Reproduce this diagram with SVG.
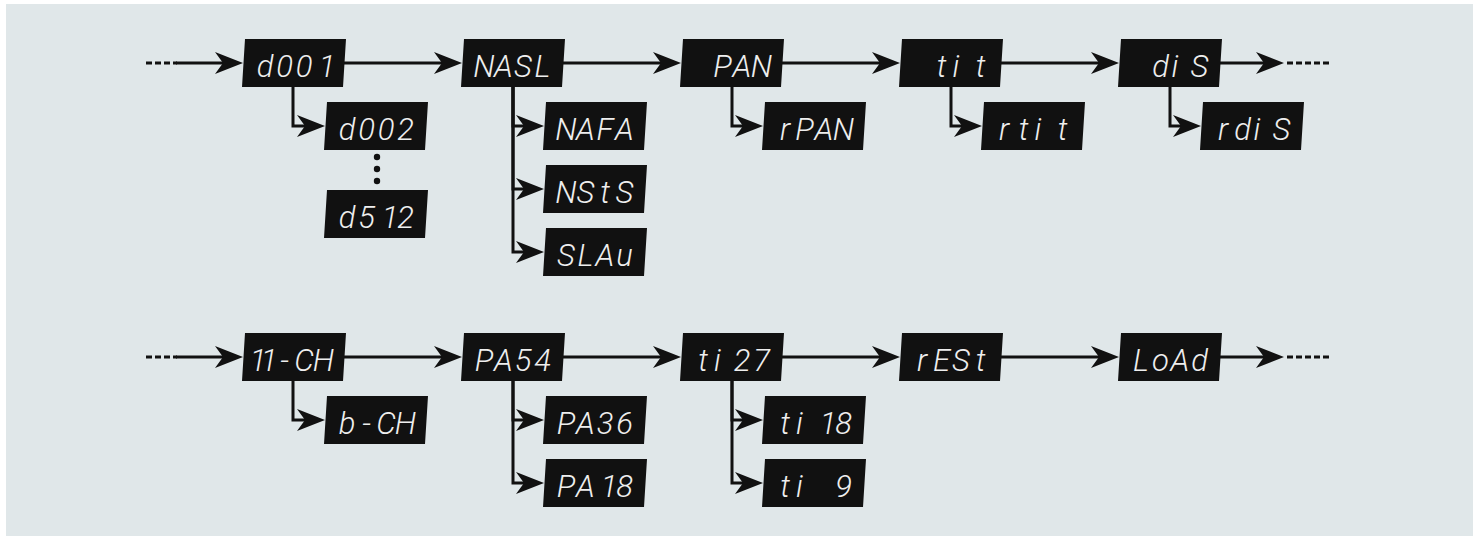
<svg xmlns="http://www.w3.org/2000/svg" width="1479" height="540" viewBox="0 0 1479 540">
<style>
.bg{fill:#e0e7e9}
.box{fill:#111111}
.lbl{font-family:Roboto,"Liberation Sans",sans-serif;font-weight:300;font-style:italic;font-size:31px;fill:#eeeeee;text-anchor:middle}
.ln{fill:none;stroke:#111111;stroke-width:3;stroke-linejoin:miter}
.dash{fill:none;stroke:#111111;stroke-width:3;stroke-dasharray:6 3}
.dot{fill:#111111}
</style>
<defs>
<path id="bx" d="M3 0H104L101 48H0Z"/>
<marker id="ah" markerUnits="userSpaceOnUse" markerWidth="32" markerHeight="26" viewBox="0 -13 32 26" refX="16" refY="0" orient="auto">
<path d="M0 -11L28 0L0 11L8 0Z" fill="#111111"/>
</marker>
</defs>
<rect class="bg" x="6" y="4" width="1467" height="532"/>

<g id="connectors">
<path class="dash" d="M146 63H177"/>
<path class="ln" d="M176 63H231" marker-end="url(#ah)"/>
<path class="ln" d="M344 63H450" marker-end="url(#ah)"/>
<path class="ln" d="M563 63H669" marker-end="url(#ah)"/>
<path class="ln" d="M782 63H888" marker-end="url(#ah)"/>
<path class="ln" d="M1001 63H1107" marker-end="url(#ah)"/>
<path class="ln" d="M1220 63H1272" marker-end="url(#ah)"/>
<path class="dash" d="M1287 63H1331"/>
<path class="ln" d="M293 87V126H313" marker-end="url(#ah)"/>
<path class="ln" d="M513 87V126H532" marker-end="url(#ah)"/>
<path class="ln" d="M513 87V189H532" marker-end="url(#ah)"/>
<path class="ln" d="M513 87V252H532" marker-end="url(#ah)"/>
<path class="ln" d="M732 87V126H751" marker-end="url(#ah)"/>
<path class="ln" d="M951 87V126H970" marker-end="url(#ah)"/>
<path class="ln" d="M1170 87V126H1189" marker-end="url(#ah)"/>
<circle class="dot" cx="377" cy="157" r="3.2"/>
<circle class="dot" cx="377" cy="169" r="3.2"/>
<circle class="dot" cx="377" cy="181" r="3.2"/>
<path class="dash" d="M146 357H177"/>
<path class="ln" d="M176 357H231" marker-end="url(#ah)"/>
<path class="ln" d="M344 357H450" marker-end="url(#ah)"/>
<path class="ln" d="M563 357H669" marker-end="url(#ah)"/>
<path class="ln" d="M782 357H888" marker-end="url(#ah)"/>
<path class="ln" d="M1001 357H1107" marker-end="url(#ah)"/>
<path class="ln" d="M1220 357H1272" marker-end="url(#ah)"/>
<path class="dash" d="M1287 357H1331"/>
<path class="ln" d="M293 381V420H313" marker-end="url(#ah)"/>
<path class="ln" d="M513 381V420H532" marker-end="url(#ah)"/>
<path class="ln" d="M513 381V483H532" marker-end="url(#ah)"/>
<path class="ln" d="M732 381V420H751" marker-end="url(#ah)"/>
<path class="ln" d="M732 381V483H751" marker-end="url(#ah)"/>
</g>

<g id="n-d001"><use href="#bx" x="242" y="39" class="box"/><text class="lbl" x="265 284.5 304 327" y="77">d001</text></g>
<g id="n-nasl"><use href="#bx" x="461" y="39" class="box"/><text class="lbl" x="484 503.5 523 542.5" y="77">NASL</text></g>
<g id="n-pan"><use href="#bx" x="680" y="39" class="box"/><text class="lbl" x="722.5 742 761.5" y="77">PAN</text></g>
<g id="n-tit"><use href="#bx" x="899" y="39" class="box"/><text class="lbl" x="941.5 956 980.5" y="77">tit</text></g>
<g id="n-dis"><use href="#bx" x="1118" y="39" class="box"/><text class="lbl" x="1160.5 1175 1199.5" y="77">diS</text></g>
<g id="n-d002"><use href="#bx" x="324" y="102" class="box"/><text class="lbl" x="347 366.5 386 405.5" y="140">d002</text></g>
<g id="n-d512"><use href="#bx" x="324" y="190" class="box"/><text class="lbl" x="347 366.5 390 405.5" y="228">d512</text></g>
<g id="n-nafa"><use href="#bx" x="543" y="102" class="box"/><text class="lbl" x="566 585.5 605 624.5" y="140">NAFA</text></g>
<g id="n-nsts"><use href="#bx" x="543" y="165" class="box"/><text class="lbl" x="566 585.5 605 624.5" y="203">NStS</text></g>
<g id="n-slau"><use href="#bx" x="543" y="228" class="box"/><text class="lbl" x="566 585.5 605 624.5" y="266">SLAu</text></g>
<g id="n-rpan"><use href="#bx" x="762" y="102" class="box"/><text class="lbl" x="785 804.5 824 843.5" y="140">rPAN</text></g>
<g id="n-rtit"><use href="#bx" x="981" y="102" class="box"/><text class="lbl" x="1004 1023.5 1038 1062.5" y="140">rtit</text></g>
<g id="n-rdis"><use href="#bx" x="1200" y="102" class="box"/><text class="lbl" x="1223 1242.5 1257 1281.5" y="140">rdiS</text></g>

<g id="n-11ch"><use href="#bx" x="242" y="333" class="box"/><text class="lbl" x="258 269 284.5 304 323.5" y="371">11-CH</text></g>
<g id="n-pa54"><use href="#bx" x="461" y="333" class="box"/><text class="lbl" x="484 503.5 523 542.5" y="371">PA54</text></g>
<g id="n-ti27"><use href="#bx" x="680" y="333" class="box"/><text class="lbl" x="703 717.5 742 761.5" y="371">ti27</text></g>
<g id="n-rest"><use href="#bx" x="899" y="333" class="box"/><text class="lbl" x="922 941.5 961 980.5" y="371">rESt</text></g>
<g id="n-load"><use href="#bx" x="1118" y="333" class="box"/><text class="lbl" x="1141 1160.5 1180 1199.5" y="371">LoAd</text></g>
<g id="n-bch"><use href="#bx" x="324" y="396" class="box"/><text class="lbl" x="347 366.5 386 405.5" y="434">b-CH</text></g>
<g id="n-pa36"><use href="#bx" x="543" y="396" class="box"/><text class="lbl" x="566 585.5 605 624.5" y="434">PA36</text></g>
<g id="n-pa18"><use href="#bx" x="543" y="459" class="box"/><text class="lbl" x="566 585.5 609 624.5" y="497">PA18</text></g>
<g id="n-ti18"><use href="#bx" x="762" y="396" class="box"/><text class="lbl" x="785 799.5 828 843.5" y="434">ti18</text></g>
<g id="n-ti9"><use href="#bx" x="762" y="459" class="box"/><text class="lbl" x="785 799.5 824 843.5" y="497" xml:space="preserve">ti 9</text></g>
</svg>
